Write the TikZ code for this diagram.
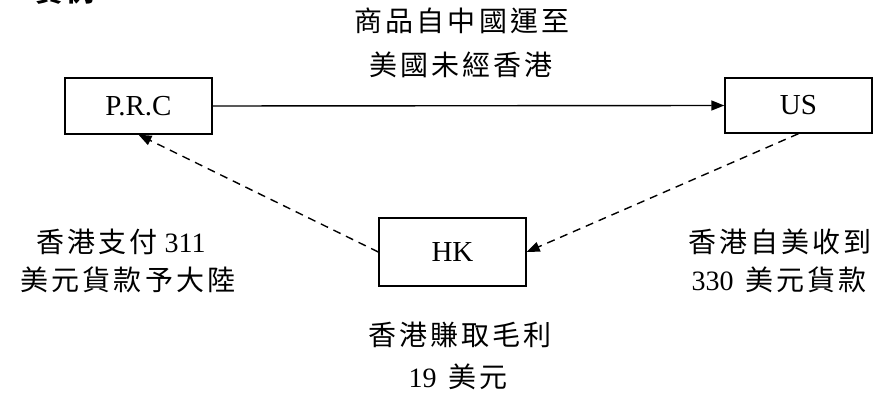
\documentclass[tikz,border=0pt]{standalone}
\usepackage{fontspec}
\setmainfont{Liberation Serif}
\newfontfamily\cjk[LetterSpace=11]{Noto Sans CJK TC}
\usetikzlibrary{arrows.meta}
\newcommand{\zh}[1]{{\cjk\fontsize{28pt}{32pt}\selectfont #1}}
\tikzset{
  boxnode/.style={draw, line width=1.4pt, minimum width=147pt, inner sep=0pt,
    font=\fontsize{29pt}{34pt}\selectfont},
  lbl/.style={anchor=base, inner sep=0pt, font=\fontsize{28pt}{32pt}\selectfont},
  solidarrow/.style={line width=1.4pt, -{Triangle[length=13pt,width=10pt]}},
  dasharrow/.style={line width=1.4pt, dash pattern=on 8pt off 6pt, -{Triangle[length=13pt,width=10pt]}}
}
\begin{document}
\begin{tikzpicture}[x=1pt,y=-1pt]
\useasboundingbox (0,0) rectangle (879,398);
\node[lbl] (title) at (65,1.5) {{\cjk\bfseries\fontsize{28pt}{32pt}\selectfont 實例}};
\node[boxnode, minimum height=56pt] (prc) at (138.5,106) {P.R.C};
\node[boxnode, minimum height=55pt] (us) at (798.5,105.5) {US};
\node[boxnode, minimum height=68pt] (hk) at (452.5,252) {HK};
\draw[solidarrow] (prc.east) -- (us.west);
\draw[dasharrow] (hk.west) -- (prc.south);
\draw[dasharrow] (us.south) -- (hk.east);
\node[lbl] (t1) at (462,32) {\zh{商品自中國運至}};
\node[lbl] (t2) at (461,76) {\zh{美國未經香港}};
\node[lbl] (l1) at (121,253) {\zh{香港支付} 311};
\node[lbl] (l2) at (128,291) {\zh{美元貨款予大陸}};
\node[lbl] (r1) at (780,253) {\zh{香港自美收到}};
\node[lbl] (r2) at (779,291) {330\, \zh{美元貨款}};
\node[lbl] (b1) at (460,345) {\zh{香港賺取毛利}};
\node[lbl] (b2) at (458,387) {19\, \zh{美元}};
\end{tikzpicture}
\end{document}
